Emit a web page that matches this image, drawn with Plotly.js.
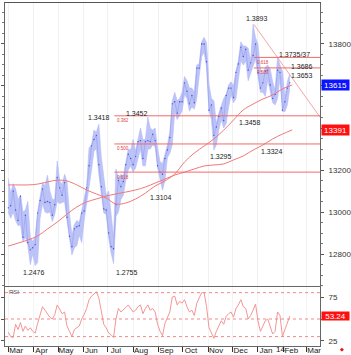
<!DOCTYPE html>
<html><head><meta charset="utf-8">
<script src="https://cdn.plot.ly/plotly-3.0.1.min.js"></script>
<style>html,body{margin:0;padding:0;background:#fff}#c{width:351px;height:355px}</style>
</head><body><div id="c"></div><script>
// ---- data (EUR/USD, 3-day samples from 2013-03-01) ----
const startDate = '2013-03-01';
const highs = [13160,13090,13135,13110,13060,13080,13000,13010,13050,12880,
 12860,12880,13000,13075,13140,13125,13175,13100,13060,13060,
 13243,13150,13130,13180,13145,12990,12890,12940,12960,12950,
 13010,13060,13120,13305,13320,13390,13380,13418,13260,13170,
 13080,13100,12990,12880,13205,13160,13180,13170,13235,13300,
 13295,13345,13290,13350,13400,13345,13345,13452,13400,13390,
 13400,13300,13240,13230,13270,13320,13380,13530,13570,13530,
 13540,13570,13645,13625,13590,13590,13570,13700,13705,13810,
 13832,13805,13605,13540,13530,13420,13470,13510,13540,13560,
 13605,13620,13600,13670,13720,13810,13790,13790,13780,13720,
 13893,13830,13800,13680,13650,13690,13700,13680,13620,13580,
 13739,13700,13670,13550,13620,13660];
const lows = [13000,12970,13000,12960,12935,12940,12860,12880,12840,12750,
 12800,12745,12760,12970,13040,13000,12995,13000,12955,12990,
 13050,13040,13045,13050,12960,12870,12796,12830,12840,12890,
 12855,12960,13040,13100,13200,13290,13300,13180,13090,12995,
 12990,12880,12805,12755,12980,13000,13060,13080,13150,13200,
 13220,13190,13210,13250,13300,13220,13220,13300,13300,13320,
 13310,13210,13160,13104,13150,13260,13280,13320,13480,13440,
 13460,13480,13560,13540,13480,13500,13490,13540,13650,13740,
 13760,13690,13480,13440,13295,13320,13390,13440,13400,13420,
 13500,13560,13520,13540,13630,13720,13700,13720,13625,13660,
 13690,13730,13650,13570,13570,13550,13630,13580,13520,13510,
 13540,13640,13480,13477,13510,13590];
const closes = [13020,13030,13100,13010,12960,13075,12880,12985,12855,12820,
 12830,12845,12995,13055,13110,13045,13050,13045,12985,13035,
 13165,13115,13080,13140,12975,12885,12835,12920,12930,12935,
 12995,13005,13115,13220,13315,13345,13365,13225,13120,13015,
 13010,12900,12835,12825,13035,13150,13120,13145,13225,13275,
 13255,13225,13265,13335,13340,13255,13335,13340,13335,13370,
 13340,13220,13190,13180,13255,13295,13355,13515,13525,13470,
 13525,13525,13615,13575,13515,13555,13520,13685,13685,13800,
 13800,13715,13485,13510,13365,13405,13455,13495,13435,13555,
 13590,13590,13545,13665,13705,13785,13740,13775,13675,13710,
 13745,13800,13665,13590,13615,13670,13675,13605,13540,13560,
 13675,13665,13485,13525,13590,13615];
const rsi = [35,30,29,44,38,46,36,42,37,40,
 36,34,45,55,64,60,56,52,50,55,
 66,60,56,58,42,36,30,38,40,42,
 50,55,62,72,76,79,81,74,58,44,
 40,34,32,29,50,62,58,60,63,66,
 62,58,60,64,66,56,62,66,60,62,
 58,44,36,31,45,52,58,75,76,66,
 70,68,72,64,58,60,54,68,74,80,
 80,64,40,34,28,36,42,48,44,53,
 56,58,52,62,66,72,64,62,50,54,
 60,67,48,36,42,48,50,40,33,36,
 58,54,30,38,46,53.24];
// moving averages, 12-day samples from 2013-03-01
const maFast = [13129,13129,13129,13133,13143,13152,13148,13129,13105,13086,13067,13038,13043,13062,13090,13124,13148,13181,13238,13281,13314,13348,13390,13438,13486,13514,13538,13557,13586,13605];
const maSlow = [12838,12852,12867,12886,12919,12952,12990,13024,13048,13062,13076,13086,13095,13105,13119,13138,13157,13176,13190,13205,13219,13224,13229,13248,13267,13295,13319,13348,13371,13391];
const monthTicks = ['2013-03-01','2013-04-01','2013-05-01','2013-06-01','2013-07-01','2013-08-01','2013-09-01','2013-10-01','2013-11-01','2013-12-01','2014-01-01','2014-02-01','2014-03-01'];
const monthLabels = ['Mar','Apr','May','Jun','Jul','Aug','Sep','Oct','Nov','Dec','Jan','Feb','Mar'];
const priceTicks = [12800,13000,13200,13400,13600,13800];
const priceTickText = ['12800','13000','13200','','','13800'];
const rsiTicks = [25,50,75];
const rsiTickText = ['25','','75'];
const rsiLevels = [80,50,30];
const fibLevels = [13458,13324,13190];
const fibNames = ['0.382','0.500','0.618'];
const fibStart = '2013-07-09';
const upperFibLevels = [13736,13686];
const upperFibNames = ['0.618','0.500'];
const upperFibStart = '2013-12-27';
const chartEnd = '2014-03-18';
const trendX = ['2013-12-27','2014-03-18'];
const trendY = [13893,13452];
const labelText = ['1.3893','1.3735/37','1.3686','1.3653','1.3458','1.3324','1.3295','1.3104','1.3418','1.3452','1.2476','1.2755'];
const labelX = ['2013-12-31','2014-02-15','2014-02-24','2014-02-24','2013-12-22','2014-01-18','2013-11-17','2013-09-04','2013-06-20','2013-08-06','2013-04-02','2013-07-25'];
const labelY = [13919,13752,13695,13648,13424,13290,13262,13071,13448,13467,12710,12714];

// ---- drawing ----
const DAY = 86400000;
const FONT = 'Liberation Sans, Arial, sans-serif';
const traces = [
 {type:'scatter', mode:'lines', x0:startDate, dx:3*DAY, y:lows, xaxis:'x', yaxis:'y',
  line:{color:'#b3baf6', width:0.6}, hoverinfo:'skip'},
 {type:'scatter', mode:'lines', x0:startDate, dx:3*DAY, y:highs, xaxis:'x', yaxis:'y',
  fill:'tonexty', fillcolor:'rgba(176,184,246,0.85)', line:{color:'#b3baf6', width:0.6}, hoverinfo:'skip'},
 {type:'scatter', mode:'lines+markers', x0:startDate, dx:3*DAY, y:closes, xaxis:'x', yaxis:'y',
  line:{color:'rgba(120,130,232,0.6)', width:0.6}, marker:{color:'#4450d6', size:1.4}, hoverinfo:'skip'},
 {type:'scatter', mode:'lines', x0:startDate, dx:12*DAY, y:maFast, xaxis:'x', yaxis:'y',
  line:{color:'#f27878', width:1, shape:'spline'}, hoverinfo:'skip'},
 {type:'scatter', mode:'lines', x0:startDate, dx:12*DAY, y:maSlow, xaxis:'x', yaxis:'y',
  line:{color:'#f27878', width:1, shape:'spline'}, hoverinfo:'skip'},
 {type:'scatter', mode:'lines', x:trendX, y:trendY, xaxis:'x', yaxis:'y',
  line:{color:'#f5a5a5', width:1}, hoverinfo:'skip'},
 {type:'scatter', mode:'lines', x0:startDate, dx:3*DAY, y:rsi, xaxis:'x2', yaxis:'y2',
  line:{color:'#f59595', width:1}, hoverinfo:'skip'}
];

const shapes = [];
fibLevels.forEach(v => shapes.push({type:'line', xref:'x', yref:'y', x0:fibStart, x1:chartEnd, y0:v, y1:v, line:{color:'#f26a6a', width:1}}));
upperFibLevels.forEach(v => shapes.push({type:'line', xref:'x', yref:'y', x0:upperFibStart, x1:chartEnd, y0:v, y1:v, line:{color:'#f26a6a', width:1}}));
rsiLevels.forEach(v => shapes.push({type:'line', xref:'paper', yref:'y2', x0:0, x1:1, y0:v, y1:v, line:{color:'#f08a8a', width:1, dash:'dot'}}));

const annotations = [];
labelText.forEach((t,i) => annotations.push({xref:'x', yref:'y', x:labelX[i], y:labelY[i], text:t, showarrow:false,
  font:{family:FONT, size:7, color:'#222'}}));
fibNames.forEach((t,i) => annotations.push({xref:'x', yref:'y', x:fibStart, y:fibLevels[i], text:t, showarrow:false,
  xanchor:'left', yanchor:'top', xshift:1, yshift:-0.5, font:{family:FONT, size:4.5, color:'#e04040'}}));
upperFibNames.forEach((t,i) => annotations.push({xref:'x', yref:'y', x:upperFibStart, y:upperFibLevels[i], text:t, showarrow:false,
  xanchor:'left', yanchor:'top', xshift:1, yshift:-0.5, font:{family:FONT, size:4.5, color:'#e04040'}}));
annotations.push({xref:'paper', yref:'y', x:1, y:closes[closes.length-1], yshift:-2, xanchor:'left', xshift:1, text:String(closes[closes.length-1]),
  showarrow:false, bgcolor:'#0a14ff', width:27, height:10, borderpad:0, font:{family:FONT, size:8, color:'#fff'}});
annotations.push({xref:'paper', yref:'y', x:1, y:maSlow[maSlow.length-1], xanchor:'left', xshift:1, text:String(maSlow[maSlow.length-1]),
  showarrow:false, bgcolor:'#ff1010', width:27, height:10, borderpad:0, font:{family:FONT, size:8, color:'#fff'}});
annotations.push({xref:'paper', yref:'y2', x:1, y:rsi[rsi.length-1], xanchor:'left', xshift:1, text:rsi[rsi.length-1].toFixed(2),
  showarrow:false, bgcolor:'#ff1010', width:27, height:8, borderpad:0, font:{family:FONT, size:8, color:'#fff'}});
annotations.push({xref:'paper', yref:'y2', x:0.005, y:86, yanchor:'top', xanchor:'left', text:'RSI', showarrow:false,
  font:{family:FONT, size:6, color:'#555'}});
annotations.push({xref:'x2', yref:'paper', x:'2014-01-28', y:-0.009, yanchor:'middle', text:'14', showarrow:false,
  font:{family:FONT, size:8, color:'#222'}});
annotations.push({xref:'paper', yref:'paper', x:1.082, y:-0.009, yanchor:'middle', text:'◆', showarrow:false,
  font:{family:'DejaVu Sans', size:5, color:'#e01010'}});

const layout = {
 width:351, height:355,
 margin:{l:5, r:31, t:3, b:9},
 paper_bgcolor:'#fff', plot_bgcolor:'#fff',
 showlegend:false,
 xaxis:{type:'date', range:['2013-02-25', chartEnd], anchor:'y', domain:[0,1],
   showticklabels:false, tickmode:'array', tickvals:monthTicks, ticks:'',
   showgrid:true, gridcolor:'#f1f1f1', gridwidth:1,
   showline:true, mirror:true, linecolor:'#555', linewidth:1.5, zeroline:false},
 xaxis2:{type:'date', matches:'x', anchor:'y2', domain:[0,1],
   tickmode:'array', tickvals:monthTicks, ticktext:monthLabels,
   ticks:'outside', ticklen:5, tickcolor:'#333', tickwidth:1,
   ticklabelshift:8, ticklabelstandoff:-9,
   tickfont:{family:FONT, size:8, color:'#222'},
   showgrid:true, gridcolor:'#f4f4f4',
   showline:true, mirror:true, linecolor:'#666', linewidth:1, zeroline:false, automargin:false},
 yaxis:{domain:[0.175,1], anchor:'x', side:'right', range:[12648,13995],
   tickmode:'array', tickvals:priceTicks, ticktext:priceTickText, ticks:'outside', ticklen:3, tickcolor:'#555',
   minor:{dtick:50, ticks:'outside', ticklen:2, tickcolor:'#777'},
   tickfont:{family:FONT, size:8, color:'#333'}, ticklabelstandoff:3,
   showgrid:false, showline:true, mirror:'ticks', linecolor:'#666', linewidth:1, zeroline:false, automargin:false},
 yaxis2:{domain:[0,0.172], anchor:'x2', side:'right', range:[19.3,86.4],
   tickmode:'array', tickvals:rsiTicks, ticktext:rsiTickText, ticks:'outside', ticklen:3, tickcolor:'#555',
   tickfont:{family:FONT, size:8, color:'#333'}, ticklabelstandoff:3,
   showgrid:false, showline:true, mirror:'ticks', linecolor:'#666', linewidth:1, zeroline:false, automargin:false},
 shapes:shapes,
 annotations:annotations
};
Plotly.newPlot('c', traces, layout, {staticPlot:true, displayModeBar:false});
</script></body></html>
